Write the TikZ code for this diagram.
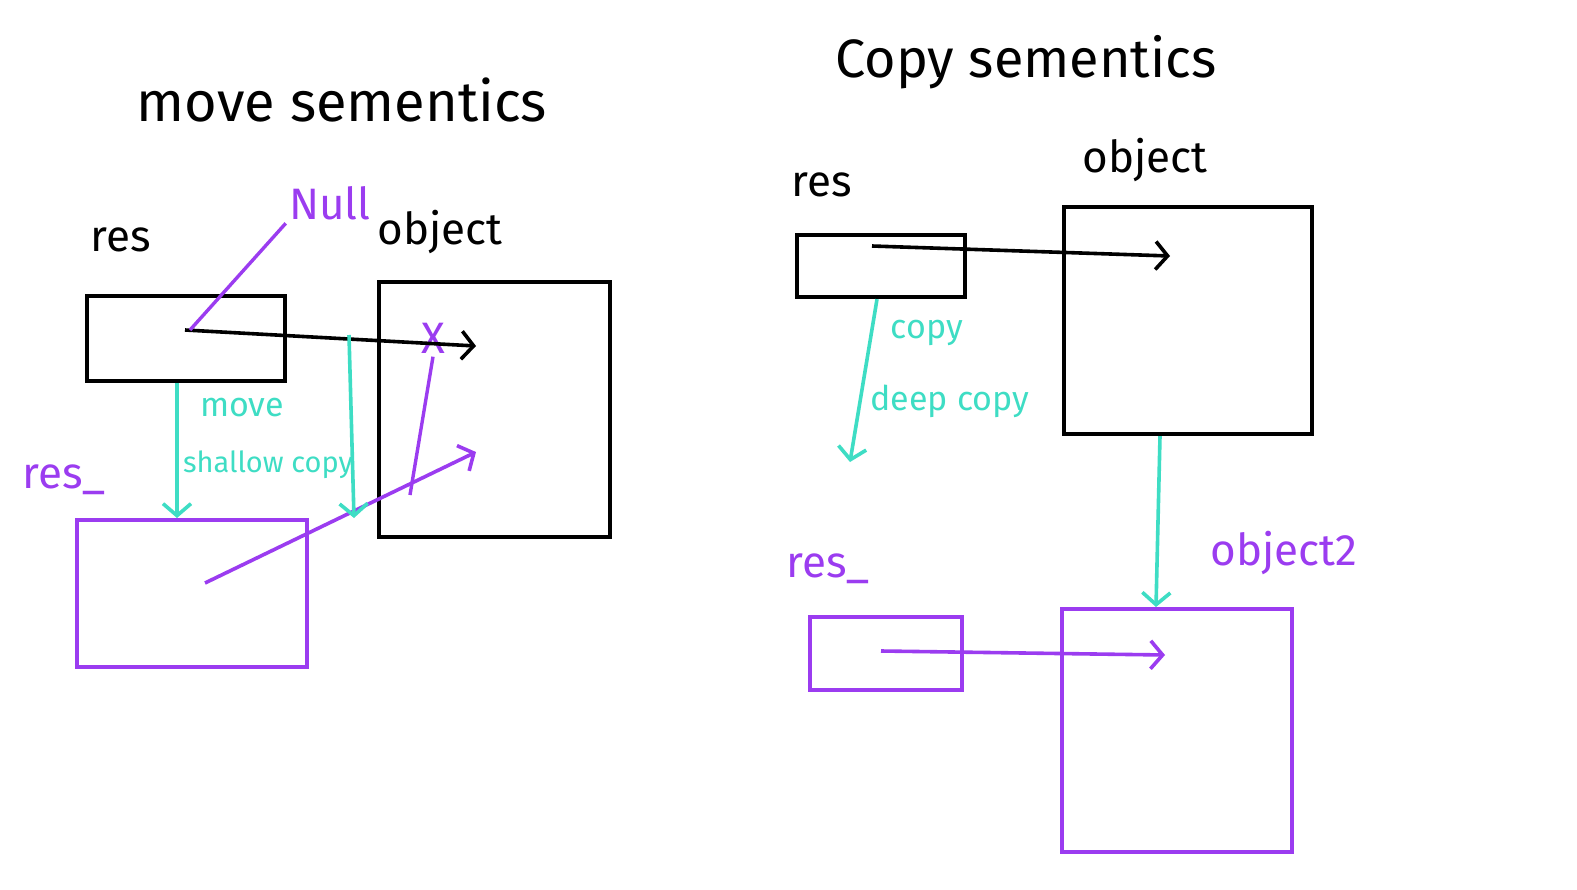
\documentclass[tikz,border=0pt]{standalone}
\usepackage{fontspec}
\setmainfont{Fira Sans}
\usetikzlibrary{positioning,arrows.meta}
\definecolor{pen-purple}{HTML}{9B3CF0}
\definecolor{pen-teal}{HTML}{3EDDC4}

\begin{document}
\begin{tikzpicture}[x=1pt, y=-1pt,
      every node/.style={font=\fontsize{44}{48}\selectfont},
      box/.style={draw, line width=4.2pt, inner sep=0pt, anchor=north west},
      ptr/.style={line width=3.6pt, -{Straight Barb[length=12pt, width=28pt]}},
      note/.style={font=\fontsize{34}{38}\selectfont, text=pen-teal}]
    \useasboundingbox[fill=white] (0,0) rectangle (1577,889);

    % move semantics
    \node (mvtitle) at (342,100) {\fontsize{56}{60}\selectfont move sementics};
    \node (mvres) at (121,240) {res};
    \node[box, minimum width=198pt, minimum height=85pt] (mvbox) at (85,294) {};
    \node[text=pen-purple] (null) at (330,203) {Null};
    \node (mvobj) at (440,232) {object};
    \node[box, minimum width=231pt, minimum height=255pt] (mvobjbox) at (377,280) {};
    \node[text=pen-purple] (mvres2) at (64,480) {res\_};
    \node[box, draw=pen-purple, minimum width=230pt, minimum height=147pt] (mvbox2) at (75,518) {};
    \node[note] (mvlbl) at (242,408) {move};
    \node[note, font=\fontsize{29}{32}\selectfont] (shallow) at (268,465) {shallow copy};
    \node[text=pen-purple, font=\fontsize{44}{48}\selectfont] (cross) at (433,338) {X};

    \coordinate (mvptr) at (185,330);
    \coordinate (mvhead) at (476,346);
    \coordinate (mvptr2) at (205,583);
    \coordinate (mvhead2) at (476,452);
    \draw[ptr] (mvptr) -- (mvhead);
    \draw[line width=3.4pt, pen-purple] (mvptr) ++(5,0) -- (null.south west);
    \draw[line width=3.4pt, pen-purple] (410,495) -- (cross.south);
    \draw[ptr, pen-purple] (mvptr2) -- (mvhead2);
    \draw[ptr, pen-teal] (mvbox.south -| 177,0) -- (mvbox2.north -| 177,0);
    \draw[ptr, pen-teal] (349,335) -- (mvbox2.north -| 354,0);

    % copy semantics
    \node (cptitle) at (1026,62) {\fontsize{54}{58}\selectfont Copy sementics};
    \node (cpres) at (822,185) {res};
    \node[box, minimum width=168pt, minimum height=62pt] (cpbox) at (795,233) {};
    \node (cpobj) at (1145,160) {object};
    \node[box, minimum width=248pt, minimum height=227pt] (cpobjbox) at (1062,205) {};
    \node[note] (cplbl) at (927,333) {copy};
    \node[note] (deep) at (950,401) {deep copy};
    \node[text=pen-purple] (cpres2) at (828,569) {res\_};
    \node[box, draw=pen-purple, minimum width=152pt, minimum height=73pt] (cpbox2) at (808,615) {};
    \node[text=pen-purple] (obj2) at (1284,553) {object2};
    \node[box, draw=pen-purple, minimum width=230pt, minimum height=243pt] (cpobjbox2) at (1060,607) {};

    \coordinate (cpptr) at (872,246);
    \coordinate (cphead) at (1170,256);
    \coordinate (cpptr2) at (881,651);
    \coordinate (cphead2) at (1165,655);
    \draw[ptr] (cpptr) -- (cphead);
    \draw[ptr, pen-purple] (cpptr2) -- (cphead2);
    \draw[ptr, pen-teal] (cpbox.south -| 877,0) -- (850,462);
    \draw[ptr, pen-teal] (cpobjbox.south -| 1160,0) -- (cpobjbox2.north -| 1156,0);
  \end{tikzpicture}
\end{document}
